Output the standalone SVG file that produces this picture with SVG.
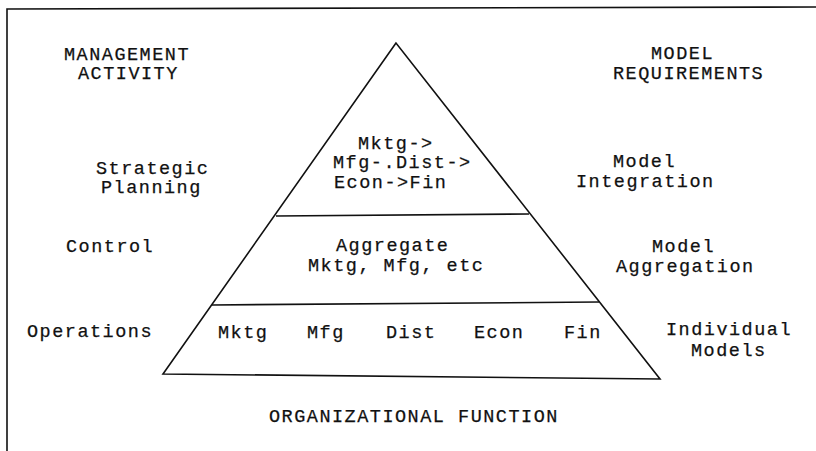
<svg xmlns="http://www.w3.org/2000/svg" width="816" height="451" viewBox="0 0 816 451">
<style>
text{font-family:"Liberation Mono","Courier New",monospace;font-size:18.5px;letter-spacing:1.5px;fill:#111;stroke:#111;stroke-width:0.25;}
.ln{stroke:#111;stroke-width:1.6;fill:none;}
</style>
<rect width="816" height="451" fill="#fff"/>
<g id="frame">
<polyline class="ln" points="7,451 7,9 816,7"/>
</g>
<g id="pyramid">
<polygon class="ln" points="396,43 163,374 660,379"/>
</g>
<g id="connectors">
<line class="ln" x1="276" y1="216" x2="529" y2="214"/>
<line class="ln" x1="212" y1="305" x2="599" y2="302"/>
</g>
<g id="management-activity">
<text x="64" y="60">MANAGEMENT</text>
<text x="78" y="79">ACTIVITY</text>
</g>
<g id="model-requirements">
<text x="651" y="59">MODEL</text>
<text x="613" y="79">REQUIREMENTS</text>
</g>
<g id="strategic-planning">
<text x="96" y="174">Strategic</text>
<text x="101" y="193">Planning</text>
</g>
<g id="top-tier">
<text x="358" y="149">Mktg-&gt;</text>
<text x="333" y="168">Mfg-.Dist-&gt;</text>
<text x="334" y="188">Econ-&gt;Fin</text>
</g>
<g id="model-integration">
<text x="613" y="167">Model</text>
<text x="576" y="187">Integration</text>
</g>
<g id="control">
<text x="66" y="252">Control</text>
</g>
<g id="middle-tier">
<text x="336" y="251">Aggregate</text>
<text x="308" y="271">Mktg, Mfg, etc</text>
</g>
<g id="model-aggregation">
<text x="652" y="252">Model</text>
<text x="616" y="272">Aggregation</text>
</g>
<g id="operations">
<text x="27" y="337">Operations</text>
</g>
<g id="bottom-tier">
<text x="218" y="338">Mktg</text>
<text x="307" y="338">Mfg</text>
<text x="386" y="338">Dist</text>
<text x="474" y="338">Econ</text>
<text x="564" y="338">Fin</text>
</g>
<g id="individual-models">
<text x="666" y="335">Individual</text>
<text x="691" y="356">Models</text>
</g>
<g id="organizational-function">
<text x="269" y="422">ORGANIZATIONAL FUNCTION</text>
</g>
</svg>
